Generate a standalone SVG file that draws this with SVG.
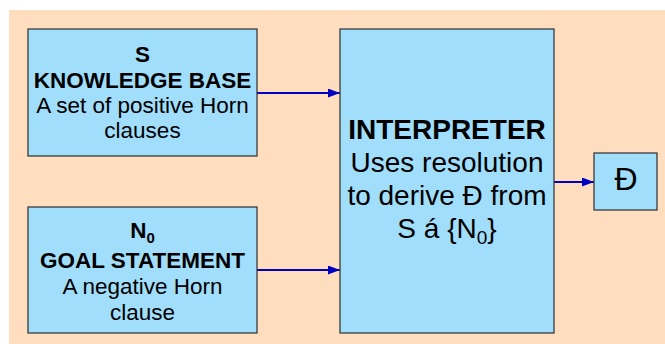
<svg xmlns="http://www.w3.org/2000/svg" width="665" height="344" viewBox="0 0 665 344">
  <defs>
    <marker id="arrow" markerWidth="12" markerHeight="9" refX="12" refY="4.5" orient="auto" markerUnits="userSpaceOnUse">
      <path d="M0,0 L12,4.5 L0,9 Z" fill="#0000C0"/>
    </marker>
    <style>
      .box { fill: #A0DEFC; stroke: #3A3A3A; stroke-width: 1.3; }
      .t { font-family: "Liberation Sans", Arial, sans-serif; fill: #000; text-anchor: middle; }
      .b { font-weight: bold; }
      .s22 { font-size: 22.5px; }
      .s28 { font-size: 28px; }
      .conn { stroke: #0000C0; stroke-width: 2; fill: none; marker-end: url(#arrow); }
    </style>
  </defs>

  <rect x="0" y="0" width="665" height="344" fill="#FFFFFF"/>
  <rect x="9" y="10" width="656" height="334" fill="#FFDEC0"/>

  <g id="connectors">
    <line class="conn" x1="257" y1="93" x2="340" y2="93"/>
    <line class="conn" x1="257" y1="270" x2="340" y2="270"/>
    <line class="conn" x1="554" y1="182" x2="594" y2="182"/>
  </g>

  <g id="knowledge-base">
    <rect class="box" x="28" y="29" width="229" height="127"/>
    <text class="t b s22" x="142.5" y="62">S</text>
    <text class="t b s22" x="142.5" y="88">KNOWLEDGE BASE</text>
    <text class="t s22" x="142.5" y="113">A set of positive Horn</text>
    <text class="t s22" x="142.5" y="138">clauses</text>
  </g>

  <g id="goal-statement">
    <rect class="box" x="28" y="207" width="229" height="126"/>
    <text class="t b s22" x="142.5" y="238">N<tspan font-size="15" dy="5">0</tspan></text>
    <text class="t b s22" x="142.5" y="268">GOAL STATEMENT</text>
    <text class="t s22" x="142.5" y="294">A negative Horn</text>
    <text class="t s22" x="142.5" y="320">clause</text>
  </g>

  <g id="interpreter">
    <rect class="box" x="340" y="29" width="214" height="304"/>
    <text class="t b s28" x="447" y="139">INTERPRETER</text>
    <text class="t s28" x="447" y="172">Uses resolution</text>
    <text class="t s28" x="447" y="205">to derive Ð from</text>
    <text class="t s28" x="447" y="238">S á {N<tspan font-size="19" dy="6">0</tspan><tspan dy="-6">}</tspan></text>
  </g>

  <g id="result">
    <rect class="box" x="594" y="153" width="63" height="57"/>
    <text class="t" x="626" y="190" font-size="32">Ð</text>
  </g>
</svg>
